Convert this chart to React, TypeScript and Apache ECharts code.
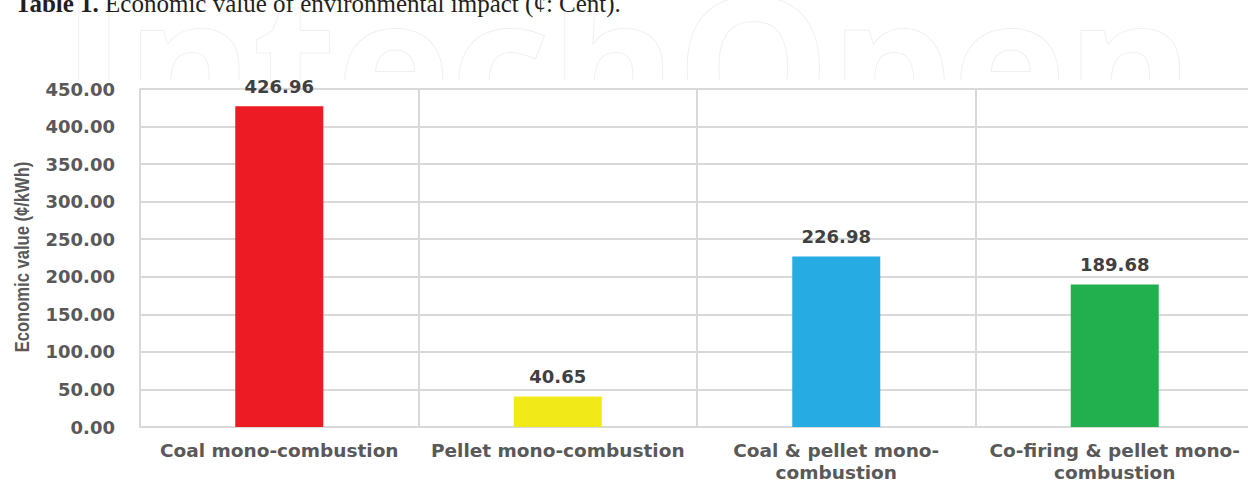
import React, { useEffect, useRef } from "react";
import * as echarts from "echarts";

const categories = [
  "Coal mono-combustion",
  "Pellet mono-combustion",
  "Coal & pellet mono-combustion",
  "Co-firing & pellet mono-combustion",
];
const values = [426.96, 40.65, 226.98, 189.68];
const barColors = ["#ED1C24", "#F2EA18", "#26ABE2", "#22AF4E"];
const yTicks = { min: 0, max: 450, interval: 50 };
const yAxisTitle = "Economic value (¢/kWh)";
const titleBold = "Table 1.";
const titleRest = " Economic value of environmental impact (¢: Cent).";
const watermark = "IntechOpen";

const LABEL_FONT = "'DejaVu Sans', sans-serif";

export default function App() {
  const ref = useRef<HTMLDivElement>(null);

  useEffect(() => {
    if (!ref.current) return;
    const chart = echarts.init(ref.current, undefined, { renderer: "svg" });
    chart.setOption({
      animation: false,
      backgroundColor: "#ffffff",
      graphic: [
        {
          type: "text",
          z: 0,
          x: 62,
          y: 158,
          silent: true,
          style: {
            text: watermark,
            font: "bold 193px 'Open Sans', sans-serif",
            fill: "#ffffff",
            stroke: "#f0f0f0",
            lineWidth: 2,
            verticalAlign: "bottom",
          },
        },
        {
          type: "rect",
          z: 0,
          silent: true,
          shape: { x: 0, y: 80, width: 1248, height: 400 },
          style: { fill: "#ffffff" },
        },
        {
          type: "text",
          z: 10,
          x: 15,
          y: 3.5,
          style: {
            text: `{b|${titleBold}}{r|${titleRest}}`,
            verticalAlign: "middle",
            rich: {
              b: {
                fontFamily: "'Liberation Serif', serif",
                fontWeight: "bold",
                fontSize: 25,
                fill: "#231f20",
              },
              r: {
                fontFamily: "'Liberation Serif', serif",
                fontSize: 25,
                fill: "#231f20",
              },
            },
          },
        },
        {
          type: "text",
          z: 10,
          x: 22,
          y: 257,
          rotation: Math.PI / 2,
          scaleX: 0.83,
          style: {
            text: yAxisTitle,
            font: "bold 20px 'Liberation Sans', sans-serif",
            fill: "#595959",
            align: "center",
            verticalAlign: "middle",
          },
        },
      ],
      grid: {
        left: 140,
        right: -6,
        top: 89,
        bottom: 53,
        containLabel: false,
        outerBoundsMode: "none",
      },
      xAxis: {
        type: "category",
        data: categories,
        axisTick: { show: false },
        axisLine: { show: true, lineStyle: { color: "#d9d9d9", width: 2 } },
        splitLine: { show: true, lineStyle: { color: "#d9d9d9", width: 2 } },
        axisLabel: {
          interval: 0,
          margin: 12,
          fontFamily: LABEL_FONT,
          fontWeight: "bold",
          fontSize: 18.5,
          lineHeight: 22,
          color: "#595959",
          formatter: (name: string) =>
            name.length > 22 ? name.replace("mono-", "mono-\n") : name,
        },
      },
      yAxis: {
        type: "value",
        min: yTicks.min,
        max: yTicks.max,
        interval: yTicks.interval,
        axisLine: { show: true, lineStyle: { color: "#d9d9d9", width: 2 } },
        axisTick: { show: false },
        splitLine: { show: true, lineStyle: { color: "#d9d9d9", width: 2 } },
        axisLabel: {
          margin: 25,
          fontFamily: LABEL_FONT,
          fontWeight: "bold",
          fontSize: 18,
          color: "#595959",
          formatter: (v: number) => v.toFixed(2),
        },
      },
      series: [
        {
          type: "bar",
          barWidth: 88,
          data: values.map((v, i) => ({ value: v, itemStyle: { color: barColors[i] } })),
          label: {
            show: true,
            position: "top",
            distance: 11,
            fontFamily: LABEL_FONT,
            fontWeight: "bold",
            fontSize: 18,
            color: "#404040",
            formatter: (p: any) => Number(p.value).toFixed(2),
          },
        },
      ],
    });
    return () => chart.dispose();
  }, []);

  return (
    <div
      ref={ref}
      style={{ position: "fixed", left: 0, top: 0, width: 1248, height: 480 }}
    />
  );
}
